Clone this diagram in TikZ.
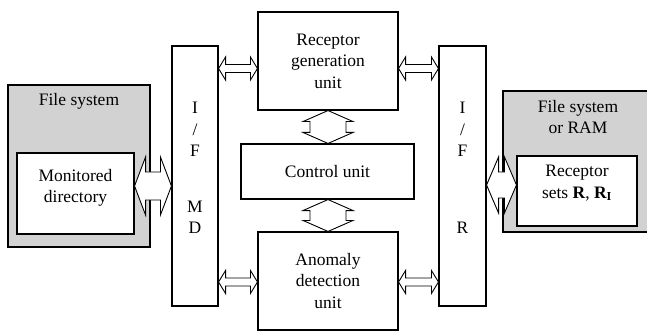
\documentclass[tikz,border=0pt]{standalone}
\usepackage{fontspec}
\setmainfont{Liberation Serif}
\usetikzlibrary{calc}
\usetikzlibrary{positioning}
\definecolor{StoreGray}{HTML}{D2D2D2}
\tikzset{
	unitbox/.style={draw, fill=white, line width=1.1pt},
	storebox/.style={draw, fill=StoreGray, line width=1.1pt},
	biarrow/.style={draw, fill=white, line width=0.9pt, line join=miter}
}
% horizontal double arrow: start, end, head half height, shaft half height, head length
\newcommand{\hdoublearrow}[5]{%
	\draw[biarrow] (#1) -- ($(#1)+(#5,-#3)$) -- ($(#1)+(#5,-#4)$) -- ($(#2)+(-#5,-#4)$)
	-- ($(#2)+(-#5,-#3)$) -- (#2) -- ($(#2)+(-#5,#3)$) -- ($(#2)+(-#5,#4)$)
	-- ($(#1)+(#5,#4)$) -- ($(#1)+(#5,#3)$) -- cycle;}
% vertical double arrow: top, bottom, head half width, shaft half width, head length
\newcommand{\vdoublearrow}[5]{%
	\draw[biarrow] (#1) -- ($(#1)+(#3,#5)$) -- ($(#1)+(#4,#5)$) -- ($(#2)+(#4,-#5)$)
	-- ($(#2)+(#3,-#5)$) -- (#2) -- ($(#2)+(-#3,-#5)$) -- ($(#2)+(-#4,-#5)$)
	-- ($(#1)+(-#4,#5)$) -- ($(#1)+(-#3,#5)$) -- cycle;}
\begin{document}
\begin{tikzpicture}
	[x=1pt, y=-1pt,
	every node/.style={font=\fontsize{17.5}{21.5}\selectfont, align=center, inner sep=0pt}]
	\useasboundingbox (0,0) rectangle (647,331);
	% storage on both sides
	\node[storebox, minimum width=142pt, minimum height=162pt] (fsL) at (79,166) {};
	\node (fsLtxt) at (79,101) {File system};
	\node[unitbox, minimum width=117pt, minimum height=81pt] (mdir) at (75.5,193.5) {};
	\node (mdirtxt) at (75.5,188) {Monitored\\directory};
	\node[storebox, minimum width=150pt, minimum height=141pt] (fsR) at (578,161.5) {};
	\node (fsRtxt) at (578,117) {File system\\or RAM};
	\node[unitbox, minimum width=120pt, minimum height=70pt] (rsets) at (577,191) {};
	\node (rsetstxt) at (577,183) {Receptor\\sets $\mathbf{R}$, $\mathbf{R}_\mathbf{I}$};
	% interfaces
	\node[unitbox, minimum width=46pt, minimum height=260pt] (ifL) at (195,176) {};
	\node (ifLtxt) at (195,168) {I\\/\\F\\[34pt]M\\D};
	\node[unitbox, minimum width=47pt, minimum height=260pt] (ifR) at (462.5,176) {};
	\node (ifRtxt) at (462.5,168) {I\\/\\F\\[55.5pt]R};
	% units
	\node[unitbox, minimum width=140pt, minimum height=98pt] (rg) at (328,61) {Receptor\\generation\\unit};
	\node[unitbox, minimum width=173pt, minimum height=55pt] (ctl) at (327.5,171.5) {Control unit};
	\node[unitbox, minimum width=140pt, minimum height=98pt] (ad) at (328,281) {Anomaly\\detection\\unit};
	% connectors
	\hdoublearrow{mdir.east |- 0,186}{ifL.west |- 0,186}{29}{14}{11}
	\hdoublearrow{ifR.east |- 0,185}{rsets.west |- 0,185}{28}{13}{12}
	\hdoublearrow{ifL.east |- 0,68.5}{rg.west |- 0,68.5}{11.5}{4}{7}
	\hdoublearrow{ifL.east |- 0,282}{ad.west |- 0,282}{11.5}{4}{7}
	\hdoublearrow{rg.east |- 0,68.5}{ifR.west |- 0,68.5}{11.5}{4}{7}
	\hdoublearrow{ad.east |- 0,282}{ifR.west |- 0,282}{11.5}{4}{7}
	\vdoublearrow{rg.south}{rg.south |- ctl.north}{25}{18}{11}
	\vdoublearrow{rg.south |- ctl.south}{rg.south |- ad.north}{25}{18}{11}
\end{tikzpicture}
\end{document}
